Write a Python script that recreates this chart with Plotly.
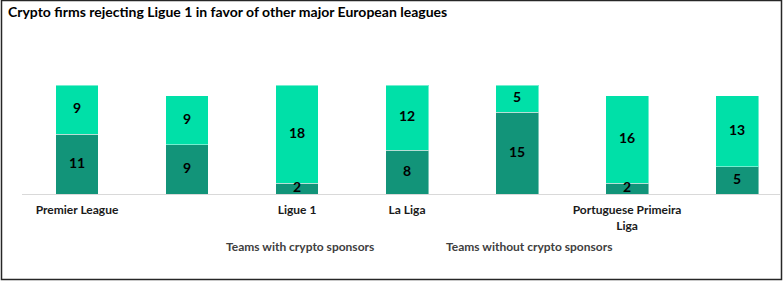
import plotly.graph_objects as go

categories = ["c1", "c2", "c3", "c4", "c5", "c6", "c7"]
tick_labels = ["Premier League", "", "Ligue 1", "La Liga", "", "Portuguese Primeira<br>Liga", ""]
with_crypto = [11, 9, 2, 8, 15, 2, 5]
without_crypto = [9, 9, 18, 12, 5, 16, 13]
series_names = ["Teams with crypto sponsors", "Teams without crypto sponsors"]
title_text = "Crypto firms rejecting Ligue 1 in favor of other major European leagues"

FONT = "Lato"
W, H = 784, 282
L, R, T, B = 22, 4, 85, 88

fig = go.Figure()
fig.add_trace(go.Bar(
    x=categories, y=with_crypto, name=series_names[0],
    marker=dict(color="#129479", line=dict(color="rgba(255,255,255,0.45)", width=1)),
    width=0.39, hoverinfo="y",
))
fig.add_trace(go.Bar(
    x=categories, y=without_crypto, name=series_names[1],
    marker=dict(color="#00E0A8", line=dict(color="rgba(255,255,255,0.45)", width=1)),
    width=0.39, hoverinfo="y",
))
# data labels centred in each segment
mid_with = [v / 2 for v in with_crypto]
mid_without = [a + b / 2 for a, b in zip(with_crypto, without_crypto)]
for mids, vals in ((mid_with, with_crypto), (mid_without, without_crypto)):
    fig.add_trace(go.Scatter(
        x=categories, y=mids, mode="text", text=[str(v) for v in vals],
        textposition="middle center",
        textfont=dict(family=FONT, size=14, color="#000000", weight="bold"),
        hoverinfo="skip", cliponaxis=False,
    ))

pw = W - L - R
ph = H - T - B

def px_x(x):
    return (x - L) / pw

def px_y(y):
    return (H - B - y) / ph

fig.update_layout(
    width=W, height=H,
    margin=dict(l=L, r=R, t=T, b=B),
    barmode="stack",
    showlegend=False,
    plot_bgcolor="white", paper_bgcolor="white",
    title=dict(text="<b>" + title_text + "</b>", x=8 / W, xanchor="left", xref="container",
               y=1 - 12 / H, yanchor="middle", yref="container",
               font=dict(family=FONT, size=14, color="#000000")),
    xaxis=dict(tickmode="array", tickvals=categories,
               ticktext=["<b>" + t.replace("<br>", "</b><br><b>") + "</b>" if t else "" for t in tick_labels],
               range=[-0.5, 6.39], showline=True, linecolor="#D9D9D9", linewidth=1,
               ticks="", ticklabelstandoff=5,
               tickfont=dict(family=FONT, size=12, color="#1a1a1a")),
    yaxis=dict(range=[0, 20], visible=False, showgrid=False),
    annotations=[
        dict(text="<b>" + series_names[0] + "</b>", x=px_x(300), y=px_y(246), xref="paper", yref="paper",
             showarrow=False, xanchor="center", yanchor="middle",
             font=dict(family=FONT, size=12, color="#404040")),
        dict(text="<b>" + series_names[1] + "</b>", x=px_x(529), y=px_y(246), xref="paper", yref="paper",
             showarrow=False, xanchor="center", yanchor="middle",
             font=dict(family=FONT, size=12, color="#404040")),
    ],
    shapes=[
        dict(type="rect", xref="paper", yref="paper",
             x0=px_x(1.5), x1=px_x(781.5), y0=px_y(279.5), y1=px_y(0.5),
             line=dict(color="#262626", width=1.5), layer="above"),
    ],
)

fig.write_html("out.html")
